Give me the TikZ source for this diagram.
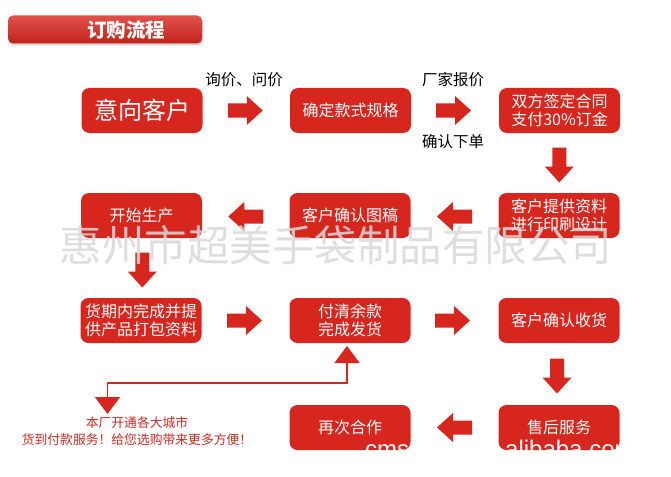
\documentclass[tikz,border=0pt]{standalone}
\usepackage{fontspec}
\setmainfont{Noto Sans CJK SC}
\newfontfamily\latinsans{Liberation Sans}
\usetikzlibrary{arrows.meta,shadows,calc}
\definecolor{boxred}{HTML}{D7261E}
\definecolor{notered}{HTML}{CC2A20}
\definecolor{wmgray}{HTML}{D9D9D9}
\tikzset{
  stepbox/.style={fill=boxred, rounded corners=8pt, minimum width=121pt, minimum height=45pt,
    text=white, font=\fontsize{16}{18.5}\selectfont, align=center, inner sep=0pt},
  lbl/.style={font=\fontsize{15.5}{18}\selectfont, text=black, inner sep=0pt},
  barrow/.pic={\fill[boxred] (-17.5,-7) -- (1.5,-7) -- (1.5,-14.5) -- (17.5,0) -- (1.5,14.5) -- (1.5,7) -- (-17.5,7) -- cycle;},
  conn/.style={draw=boxred, line width=1.5pt,
    {Triangle[width=25pt,length=17pt]}-{Triangle[width=25pt,length=17pt]}},
  wmark/.style={text=wmgray, opacity=0.85, font=\fontsize{42.5}{44}\selectfont, inner sep=0pt},
  wwhite/.style={text=white, font=\latinsans\fontsize{24}{24}\selectfont, inner sep=0pt, anchor=base west},
}
\begin{document}
\begin{tikzpicture}[x=1pt,y=-1pt]
\useasboundingbox[fill=white] (0,0) rectangle (671,476);

% title bar
\node[rounded corners=5pt, minimum width=194pt, minimum height=28pt, inner sep=0pt,
  top color=boxred!80!white, bottom color=boxred!90!black,
  drop shadow={opacity=0.35, shadow xshift=1pt, shadow yshift=-2pt}] (titlebar) at (105,29.5) {};
\node[text=white, font=\fontsize{19.5}{20}\selectfont\bfseries, inner sep=0pt] (title) at (126,30.5) {订购流程};

% row 1
\node[stepbox, font=\fontsize{24}{26}\selectfont] (b1) at (142,110.5) {意向客户};
\node[stepbox] (b2) at (350.5,110.5) {确定款式规格};
\node[stepbox] (b3) at (559.5,110.5) {双方签定合同\\支付30\%订金};
% row 2
\node[stepbox] (c1) at (141.5,215.5) {开始生产};
\node[stepbox] (c2) at (350,215.5) {客户确认图稿};
\node[stepbox] (c3) at (559,215.5) {客户提供资料\\进行印刷设计};
% row 3
\node[stepbox] (d1) at (141,320.5) {货期内完成并提\\供产品打包资料};
\node[stepbox] (d2) at (350,320.5) {付清余款\\完成发货};
\node[stepbox] (d3) at (559,320.5) {客户确认收货};
% row 4
\node[stepbox] (e2) at (350,427.5) {再次合作};
\node[stepbox] (e3) at (559,427.5) {售后服务};

% block arrows
\pic at ($(b1.east)!0.5!(b2.west)+(-1,0)$) {barrow};
\pic at ($(b2.east)!0.5!(b3.west)+(-1.5,0)$) {barrow};
\pic[rotate=-90] at ($(b3.south)!0.5!(c3.north)+(0,2)$) {barrow};
\pic[rotate=180] at ($(c2.east)!0.5!(c3.west)+(0,1)$) {barrow};
\pic[rotate=180] at ($(c1.east)!0.5!(c2.west)+(0,1)$) {barrow};
\pic[rotate=-90] at ($(c1.south)!0.5!(d1.north)+(1,2)$) {barrow};
\pic at ($(d1.east)!0.5!(d2.west)+(-1,0)$) {barrow};
\pic at ($(d2.east)!0.5!(d3.west)+(-2,0)$) {barrow};
\pic[rotate=-90] at ($(d3.south)!0.5!(e3.north)+(-2,2)$) {barrow};
\pic[rotate=180] at ($(e2.east)!0.5!(e3.west)+(0,0)$) {barrow};

% labels
\node[lbl] (l1) at (244,80) {询价、问价};
\node[lbl] (l2) at (453,80) {厂家报价};
\node[lbl] (l3) at (453,142) {确认下单};

% note and connector
\node[text=notered, align=center, font=\fontsize{12.8}{17}\selectfont, inner sep=0pt] (note) at (137,431.5)
  {本厂开通各大城市\\货到付款服务！给您选购带来更多方便！};
\coordinate (tA) at (107.5,414);
\coordinate (tB) at (347,346);
\coordinate (bend) at (347,383);
\draw[conn] (tA) |- (bend) -- (tB);

% watermarks
\node[wmark] (wm) at (336,245) {惠州市超美手袋制品有限公司};
\begin{scope}
  \clip (e2.south west) rectangle (e2.north east);
  \node[wwhite] (wm2) at (365,457) {cms};
\end{scope}
\begin{scope}
  \clip (e3.south west) rectangle (e3.north east);
  \node[wwhite] (wm3) at (505,457) {alibaba.com};
\end{scope}
\end{tikzpicture}
\end{document}
